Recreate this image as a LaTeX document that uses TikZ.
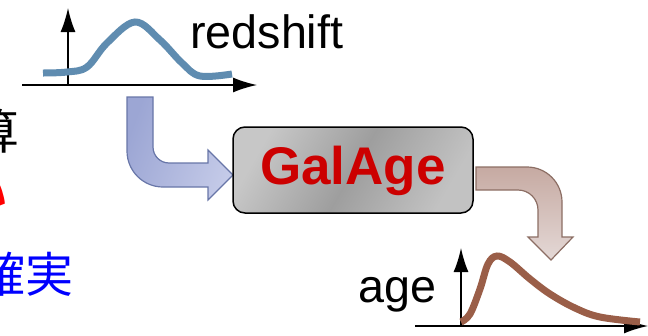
\documentclass[tikz,border=0pt]{standalone}
\usepackage{fontspec}
\setmainfont{Liberation Sans}
\newfontfamily\cjk{Noto Sans CJK JP}
\usetikzlibrary{arrows.meta}
\definecolor{zblue}{RGB}{95,140,176}
\definecolor{agebrown}{RGB}{154,94,72}
\definecolor{galred}{RGB}{204,0,0}
\definecolor{inblue}{RGB}{104,118,168}
\definecolor{outbrown}{RGB}{140,110,100}
\def\fsize#1{\fontsize{#1}{#1}\selectfont}
\tikzset{
  plotaxis/.style={line width=1.5pt,-{Latex[length=24pt,width=15pt]}},
  plotcurve/.style={line width=7pt},
  label/.style={inner sep=0pt,anchor=base west,font=\fsize{46.7}},
  jptext/.style={inner sep=0pt,anchor=base east,font=\cjk\fsize{48}},
}

\begin{document}
\begin{tikzpicture}[x=1pt,y=-1pt]
		%%%%% START %%%%%
		\useasboundingbox (0,0) rectangle (648,335);
		\clip (0,0) rectangle (648,335);
		
		% text cut off at the left edge
		\node[jptext] (calc) at (20,149) {算};
		\node[jptext,text=red,font=\cjk\bfseries\fsize{48}] (fast) at (8,212) {い};
		\node[jptext,text=blue] (sure) at (74,292) {確実};
		
		% redshift distribution
		\draw[plotaxis] (22,85) -- (257,85);
		\draw[plotaxis] (68,85) -- (68,8);
		\draw[plotcurve,zblue] plot[smooth,tension=0.6] coordinates {(43,73) (67,72) (87,67) (107,43) (135,22) (160,40) (182,63) (200,76) (232,74)};
		\node[label] (z) at (190,48) {redshift};
		
		% input arrow
		\draw[draw=inblue,line width=1.2pt,left color={rgb,255:red,156;green,166;blue,212},right color={rgb,255:red,196;green,202;blue,232},shading angle=70]
			(127,97) -- (127,151) arc[start angle=180,end angle=90,radius=36] -- (208,187) -- (208,200) -- (233,175)
			-- (208,150) -- (208,163) -- (169,163) arc[start angle=90,end angle=180,radius=16] -- (153,97) -- cycle;
		
		% output arrow
		\draw[draw=outbrown,line width=1.2pt,top color={rgb,255:red,198;green,170;blue,162},bottom color={rgb,255:red,228;green,216;blue,214}]
			(476,167) -- (527,167) arc[start angle=-90,end angle=0,radius=35] -- (562,237) -- (573,237) -- (551,260)
			-- (528,237) -- (538,237) -- (538,210) arc[start angle=0,end angle=-90,radius=20] -- (476,190) -- cycle;
		
		% code box
		\draw[line width=1.5pt,rounded corners=12pt,left color=black!22,right color=black!24,middle color=black!38,shading angle=60]
			(233,127) rectangle (473,213);
		\node[inner sep=0pt,text=galred,font=\bfseries\fsize{53}] (galage) at (353,171) {GalAge};
		
		% age distribution
		\draw[plotaxis] (415,326) -- (648,326);
		\draw[plotaxis] (461,326) -- (461,248);
		\draw[plotcurve,agebrown] plot[smooth,tension=0.6] coordinates {(461,322) (470,314) (480,289) (488,264) (497,256) (510,262) (530,279) (550,294) (575,308) (600,317) (640,322)};
		\node[label] (age) at (358,302) {age};
		%%%%% END %%%%%
	\end{tikzpicture}
\end{document}
